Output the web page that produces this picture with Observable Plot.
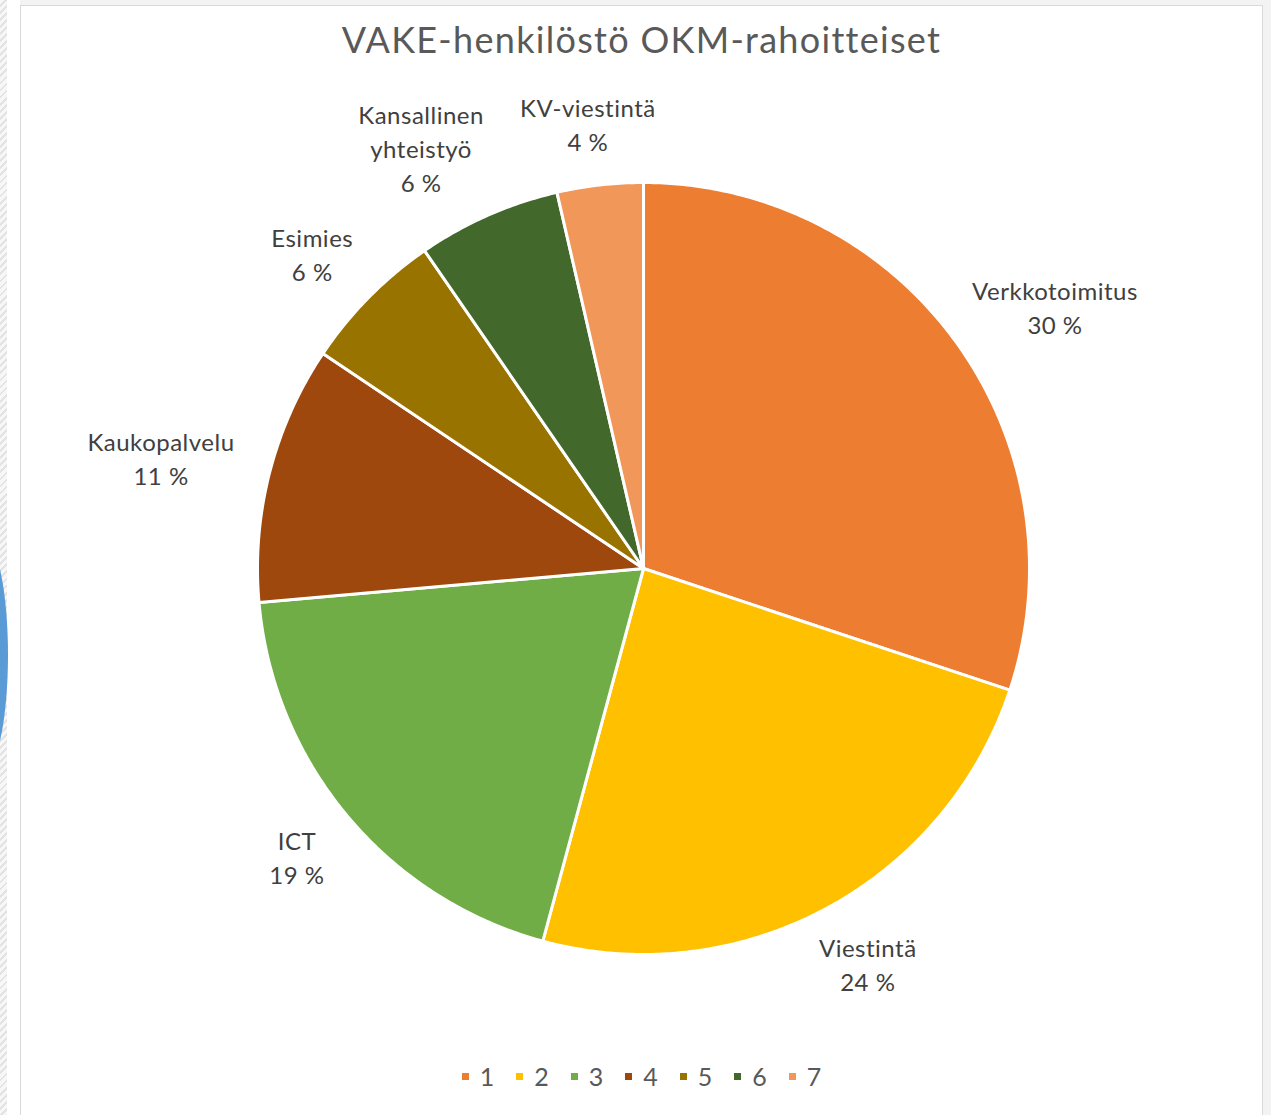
<!DOCTYPE html>
<html>
<head>
<meta charset="utf-8">
<script src="https://cdn.jsdelivr.net/npm/d3@7"></script>
<script src="https://cdn.jsdelivr.net/npm/@observablehq/plot@0.6"></script>
<style>
  html, body { margin: 0; padding: 0; }
  body { width: 1271px; height: 1115px; background: #f3f3f3; position: relative; overflow: hidden;
         font-family: Lato, "Open Sans", sans-serif; }
  #strip { position: absolute; left: 0; top: 0; width: 7px; height: 1115px;
           background: repeating-linear-gradient(135deg, #f7f7f7 0 3px, #e3e3e3 3px 5px); }
  #white { position: absolute; left: 7px; top: 0; width: 13px; height: 1115px; background: #fff; }
  #arc { position: absolute; left: -40px; top: 540px; width: 48px; height: 230px; border-radius: 50%;
         border-right: 8px solid #5b9bd5; box-sizing: border-box; }
  #box { position: absolute; left: 20px; top: 5px; width: 1243px; height: 1120px; background: #fff;
         border: 1px solid #d9d9d9; box-sizing: border-box; }
  #title { height: 66px; line-height: 66px; text-align: center; font-size: 36px; letter-spacing: 1.3px; color: #595959; }
  #legend { display: flex; justify-content: center; align-items: center; height: 68px; gap: 22px;
            font-size: 25px; color: #595959; }
  #chart svg text { letter-spacing: 0.5px; }
  .item { display: flex; align-items: center; gap: 11px; }
  .sw { width: 7px; height: 7px; display: inline-block; }
</style>
</head>
<body>
<div id="strip"></div>
<div id="white"></div>
<div id="arc"></div>
<div id="box">
  <div id="title">VAKE-henkilöstö OKM-rahoitteiset</div>
  <div id="chart"></div>
  <div id="legend"></div>
</div>
<script>
const categories = ["Verkkotoimitus", "Viestintä", "ICT", "Kaukopalvelu", "Esimies", "Kansallinen yhteistyö", "KV-viestintä"];
const labelNames = ["Verkkotoimitus", "Viestintä", "ICT", "Kaukopalvelu", "Esimies", "Kansallinen\nyhteistyö", "KV-viestintä"];
const values = [30.1, 24.1, 19.4, 10.8, 6.0, 6.0, 3.6];
const percentLabels = ["30 %", "24 %", "19 %", "11 %", "6 %", "6 %", "4 %"];
const legendLabels = ["1", "2", "3", "4", "5", "6", "7"];
const colors = ["#ED7D31", "#FFC000", "#70AD47", "#9E480E", "#997300", "#43682B", "#F1975A"];

const W = 1241, H = 970, cx = 622, cy = 496, R = 386;
const fontSize = 24, lineHeight = 1.42, letterSpacing = 0.5, fontFamily = "Lato, 'Open Sans', sans-serif";
const minGap = 36;

const total = d3.sum(values);
const rows = [];
const labels = [];
const ctx = document.createElement("canvas").getContext("2d");
ctx.font = `${fontSize}px ${fontFamily}`;
let acc = 0;
categories.forEach((cat, i) => {
  const a0 = acc / total * 2 * Math.PI;
  acc += values[i];
  const a1 = acc / total * 2 * Math.PI;
  rows.push({cat, x: 0, y: 0});
  const n = Math.max(2, Math.ceil((a1 - a0) / (Math.PI / 360)));
  for (let k = 0; k <= n; k++) {
    const a = a0 + (a1 - a0) * k / n;
    rows.push({cat, x: Math.sin(a), y: Math.cos(a)});
  }
  rows.push({cat, x: 0, y: 0});
  const am = (a0 + a1) / 2;
  const text = labelNames[i] + "\n" + percentLabels[i];
  const lines = text.split("\n");
  const w = d3.max(lines, l => ctx.measureText(l).width + l.length * letterSpacing);
  const h = lines.length * fontSize * lineHeight;
  const px = Math.sin(am) * (R * 1.1 + w / 2);
  const py = Math.cos(am) * (R * 1.1 + h / 2 * 0.7);
  labels.push({text, px, py, w, h});
});
// keep neighbouring labels apart: push the left one of a crowded pair further left
for (let i = 0; i < labels.length; i++) {
  for (let j = 0; j < labels.length; j++) {
    if (i === j) continue;
    const A = labels[i], B = labels[j];
    if (A.px >= B.px) continue;
    const vOverlap = Math.abs(A.py - B.py) < (A.h + B.h) / 2;
    const gap = (B.px - B.w / 2) - (A.px + A.w / 2);
    if (vOverlap && gap < minGap) A.px -= (minGap - gap);
  }
}
labels.forEach(d => { d.x = d.px / R; d.y = d.py / R; });

const chart = Plot.plot({
  width: W, height: H,
  margin: 0,
  x: {domain: [-cx / R, (W - cx) / R], axis: null},
  y: {domain: [-(H - cy) / R, cy / R], axis: null},
  color: {domain: categories, range: colors},
  style: {background: "transparent", overflow: "visible"},
  marks: [
    Plot.line(rows, {x: "x", y: "y", z: "cat", fill: "cat", stroke: "white", strokeWidth: 3, strokeLinejoin: "round", curve: "linear"}),
    Plot.text(labels, {x: "x", y: "y", text: "text", fill: "#404040", fontSize, lineHeight, fontFamily})
  ]
});
document.getElementById("chart").appendChild(chart);

const legend = document.getElementById("legend");
legendLabels.forEach((l, i) => {
  const it = document.createElement("div");
  it.className = "item";
  it.innerHTML = `<span class="sw" style="background:${colors[i]}"></span><span>${l}</span>`;
  legend.appendChild(it);
});
</script>
</body>
</html>
